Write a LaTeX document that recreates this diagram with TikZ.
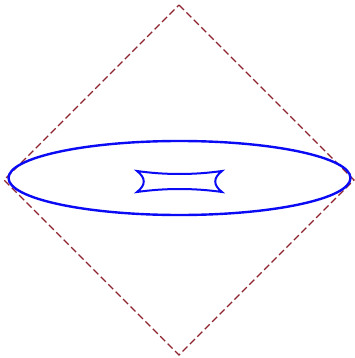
\documentclass[tikz,border=0pt]{standalone}
\definecolor{dred}{RGB}{140,35,45}
\definecolor{eblue}{RGB}{10,10,245}
\tikzset{
  frame/.style={draw=dred, line width=1.4pt, dash pattern=on 7pt off 3.5pt},
  curveA/.style={draw=eblue, line width=2.4pt},
  curveB/.style={draw=eblue, line width=2pt, line join=miter},
}
\begin{document}
\begin{tikzpicture}[x=1pt,y=-1pt]
\useasboundingbox (0,0) rectangle (354,358);
\draw[frame] (179,5) -- (354,180) -- (179,355) -- (4,180) -- cycle;
\draw[curveA] (179.5,178) ellipse [x radius=171, y radius=37];
\draw[curveB] (137,171) .. controls (165,175) and (194,175) .. (222,171)
  .. controls (213,178) and (213,185) .. (222,192)
  .. controls (194,188) and (165,188) .. (137,192)
  .. controls (146,185) and (146,178) .. cycle;
\end{tikzpicture}
\end{document}
